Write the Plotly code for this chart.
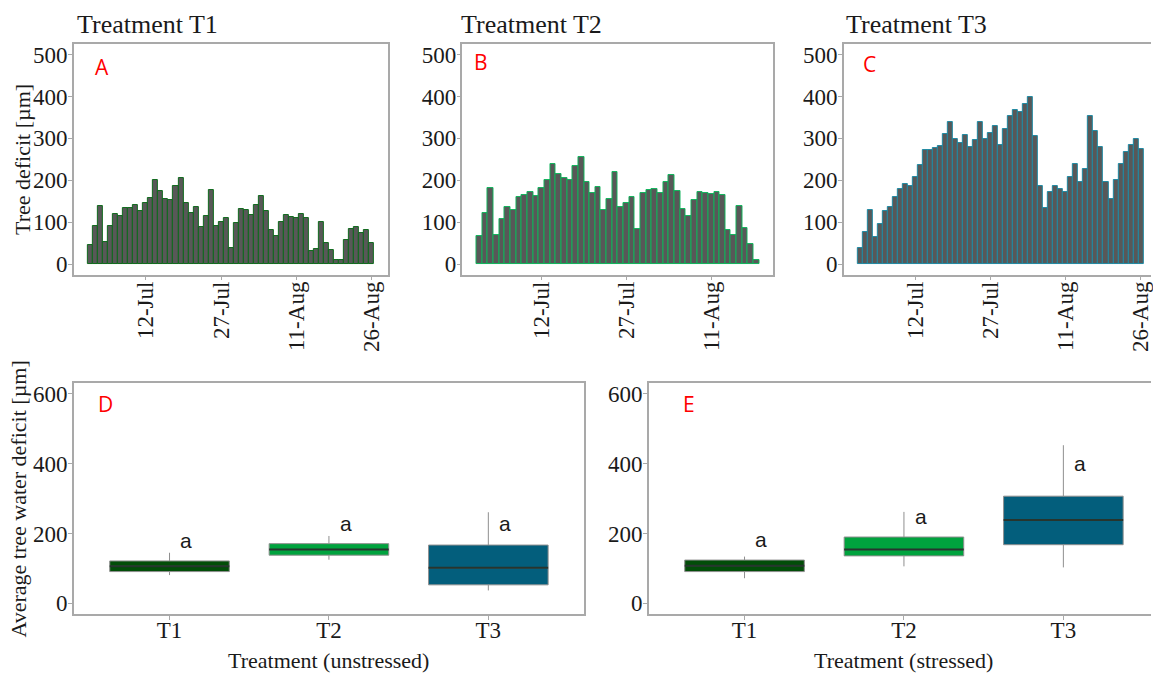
import pandas as pd
import plotly.graph_objects as go

W, H = 1153, 673

# Daily tree water deficit (µm) per treatment, starting 1 July
start_date = "2019-07-01"
t1_daily = [45, 90, 139, 52, 92, 119, 114, 133, 135, 140,
            126, 145, 158, 201, 174, 156, 153, 186, 206, 147,
            121, 137, 88, 114, 177, 90, 100, 109, 38, 97,
            131, 130, 118, 142, 163, 126, 82, 66, 100, 117,
            113, 111, 120, 109, 32, 35, 100, 51, 33, 9,
            10, 58, 84, 88, 75, 82, 50]
t2_daily = [66, 121, 182, 70, 108, 137, 128, 160, 165, 171,
            162, 181, 200, 238, 216, 205, 201, 235, 256, 196,
            170, 184, 130, 155, 219, 137, 146, 160, 85, 169,
            177, 179, 170, 197, 212, 174, 131, 115, 152, 172,
            170, 168, 173, 166, 81, 69, 139, 86, 49, 11]
t3_daily = [39, 77, 128, 64, 96, 126, 136, 161, 180, 190,
            187, 209, 237, 272, 273, 278, 282, 311, 338, 298,
            288, 308, 279, 295, 340, 299, 313, 330, 284, 322,
            353, 367, 364, 381, 398, 306, 186, 133, 171, 186,
            179, 173, 207, 239, 196, 228, 354, 318, 279, 197,
            156, 201, 238, 267, 284, 299, 275]

date_ticks = ["2019-07-12", "2019-07-27", "2019-08-11", "2019-08-26"]
y_ticks_daily = [0, 100, 200, 300, 400, 500]

# Summary statistics for the box plots
treatments = ["T1", "T2", "T3"]
unstressed_q1 = [91, 138, 53]
unstressed_median = [106, 154, 102]
unstressed_q3 = [121.5, 171, 167]
unstressed_low = [81, 125, 37]
unstressed_high = [145, 193, 261]
unstressed_letter_y = [179, 230, 228]

stressed_q1 = [91, 136, 168]
stressed_median = [108, 154, 239]
stressed_q3 = [124, 190, 307]
stressed_low = [72, 106, 103]
stressed_high = [134, 262, 453]
stressed_letter_y = [182, 250, 401]

letters = ["a", "a", "a"]
y_ticks_box = [0, 200, 400, 600]

box_fill = ["#024d08", "#00a33e", "#035e7c"]
bar_outline = ["#0f6a1c", "#12b45c", "#1f8aa3"]
bar_fill = "#585858"
frame_col = "#a9a9a9"
text_col = "#1a1a1a"
serif = "Liberation Serif"

fig = go.Figure()


def px_x(p):
    return p / W


def px_y(p):
    return 1 - p / H


# ---- Top row: daily bars ----
daily = [t1_daily, t2_daily, t3_daily]
for k, vals in enumerate(daily):
    dates = pd.date_range(start_date, periods=len(vals), freq="D")
    fig.add_trace(go.Bar(
        x=dates, y=vals, width=86400000,
        marker=dict(color=bar_fill, line=dict(color=bar_outline[k], width=1)),
        xaxis=f"x{k + 1 if k else ''}", yaxis=f"y{k + 1 if k else ''}",
        showlegend=False,
    ))

# ---- Bottom row: box plots ----
box_w = 0.75
groups = [
    (unstressed_q1, unstressed_median, unstressed_q3, unstressed_low, unstressed_high, "x4", "y4"),
    (stressed_q1, stressed_median, stressed_q3, stressed_low, stressed_high, "x5", "y5"),
]
for q1, med, q3, lo, hi, xa, ya in groups:
    for i in range(3):
        pos = i + 1
        fig.add_trace(go.Box(
            x=[pos], q1=[q1[i]], median=[med[i]], q3=[q3[i]],
            lowerfence=[lo[i]], upperfence=[hi[i]],
            width=box_w, whiskerwidth=0, boxpoints=False,
            fillcolor=box_fill[i], line=dict(color="#8f8f8f", width=1),
            xaxis=xa, yaxis=ya, showlegend=False, hoverinfo="skip",
        ))
        fig.add_trace(go.Scatter(
            x=[pos - box_w / 2, pos + box_w / 2], y=[med[i], med[i]],
            mode="lines", line=dict(color="#27352e", width=2),
            xaxis=xa, yaxis=ya, showlegend=False, hoverinfo="skip",
        ))

axis_common = dict(
    showline=True, linecolor=frame_col, linewidth=1.5,
    ticks="outside", ticklen=4, tickcolor=frame_col, tickwidth=1,
    showgrid=False, zeroline=False, ticklabeloverflow="allow",
    tickfont=dict(family=serif, size=23, color=text_col),
)
y_common = dict(axis_common, ticklabelstandoff=-4)

top_dom = [px_y(275.3), px_y(43.3)]
bot_dom = [px_y(616.5), px_y(384.7)]

date_x = dict(axis_common, type="date", tickvals=date_ticks,
              tickformat="%d-%b", tickangle=-90, ticklabelstandoff=-8)
cat_x = dict(axis_common, tickvals=[1, 2, 3], ticktext=treatments,
             ticklabelstandoff=-9)

layout = dict(
    width=W, height=H, margin=dict(l=0, r=0, t=0, b=0),
    paper_bgcolor="white", plot_bgcolor="white", bargap=0,
    xaxis=dict(date_x, domain=[px_x(74), px_x(389)], anchor="y", mirror=True,
               range=["2019-06-27 16:24", "2019-08-29 07:36"]),
    yaxis=dict(y_common, domain=top_dom, anchor="x", mirror=True,
               range=[-25, 525], tickvals=y_ticks_daily),
    xaxis2=dict(date_x, domain=[px_x(463.3), px_x(774.7)], anchor="y2", mirror=True,
                range=["2019-06-28", "2019-08-22"]),
    yaxis2=dict(y_common, domain=top_dom, anchor="x2", mirror=True,
                range=[-25, 525], tickvals=y_ticks_daily),
    xaxis3=dict(date_x, domain=[px_x(845.3), 1], anchor="y3", mirror=True,
                range=["2019-06-27 16:24", "2019-08-28 00:30"]),
    yaxis3=dict(y_common, domain=top_dom, anchor="x3", mirror=False,
                range=[-25, 525], tickvals=y_ticks_daily),
    xaxis4=dict(cat_x, domain=[px_x(74), px_x(585)], anchor="y4", mirror=True,
                range=[0.4, 3.6]),
    yaxis4=dict(y_common, domain=bot_dom, anchor="x4", mirror=True,
                range=[-30, 630], tickvals=y_ticks_box),
    xaxis5=dict(cat_x, domain=[px_x(650), 1], anchor="y5", mirror=True,
                range=[0.4, 0.4 + (W - 650) / 159.7]),
    yaxis5=dict(y_common, domain=bot_dom, anchor="x5", mirror=False,
                range=[-30, 630], tickvals=y_ticks_box),
)

ann = []
# Panel titles
for txt, x0 in [("Treatment T1", 75), ("Treatment T2", 460), ("Treatment T3", 845)]:
    ann.append(dict(text=txt, x=px_x(x0), y=px_y(24), xref="paper", yref="paper",
                    xanchor="left", yanchor="middle", showarrow=False,
                    font=dict(family=serif, size=26, color=text_col)))
# Panel letters
for txt, x0, y0 in [("A", 93, 66), ("B", 473, 61), ("C", 862, 63), ("D", 96, 405), ("E", 682, 405)]:
    ann.append(dict(text=txt, x=px_x(x0), y=px_y(y0), xref="paper", yref="paper",
                    xanchor="left", yanchor="middle", showarrow=False,
                    font=dict(family="Open Sans", size=21, color="#ff0000")))
# Axis titles
ann.append(dict(text="Tree deficit [µm]", x=px_x(22), y=px_y(159), xref="paper", yref="paper",
                textangle=-90, xanchor="center", yanchor="middle", showarrow=False,
                font=dict(family=serif, size=22, color=text_col)))
ann.append(dict(text="Average tree water deficit [µm]", x=px_x(19), y=px_y(500.6),
                xref="paper", yref="paper", textangle=-90, xanchor="center", yanchor="middle",
                showarrow=False, font=dict(family=serif, size=22, color=text_col)))
ann.append(dict(text="Treatment (unstressed)", x=px_x(329.5), y=px_y(663), xref="paper", yref="paper",
                xanchor="center", yanchor="middle", showarrow=False,
                font=dict(family=serif, size=22, color=text_col)))
ann.append(dict(text="Treatment (stressed)", x=px_x(905.5), y=px_y(663), xref="paper", yref="paper",
                xanchor="center", yanchor="middle", showarrow=False,
                font=dict(family=serif, size=22, color=text_col)))
# Significance letters
for ys, xr, yr in [(unstressed_letter_y, "x4", "y4"), (stressed_letter_y, "x5", "y5")]:
    for i in range(3):
        ann.append(dict(text=letters[i], x=i + 1 + 0.105, y=ys[i], xref=xr, yref=yr,
                        xanchor="center", yanchor="middle", showarrow=False,
                        font=dict(family="Liberation Sans", size=21, color=text_col)))

layout["annotations"] = ann
fig.update_layout(**layout)
fig.write_html("out.html")
